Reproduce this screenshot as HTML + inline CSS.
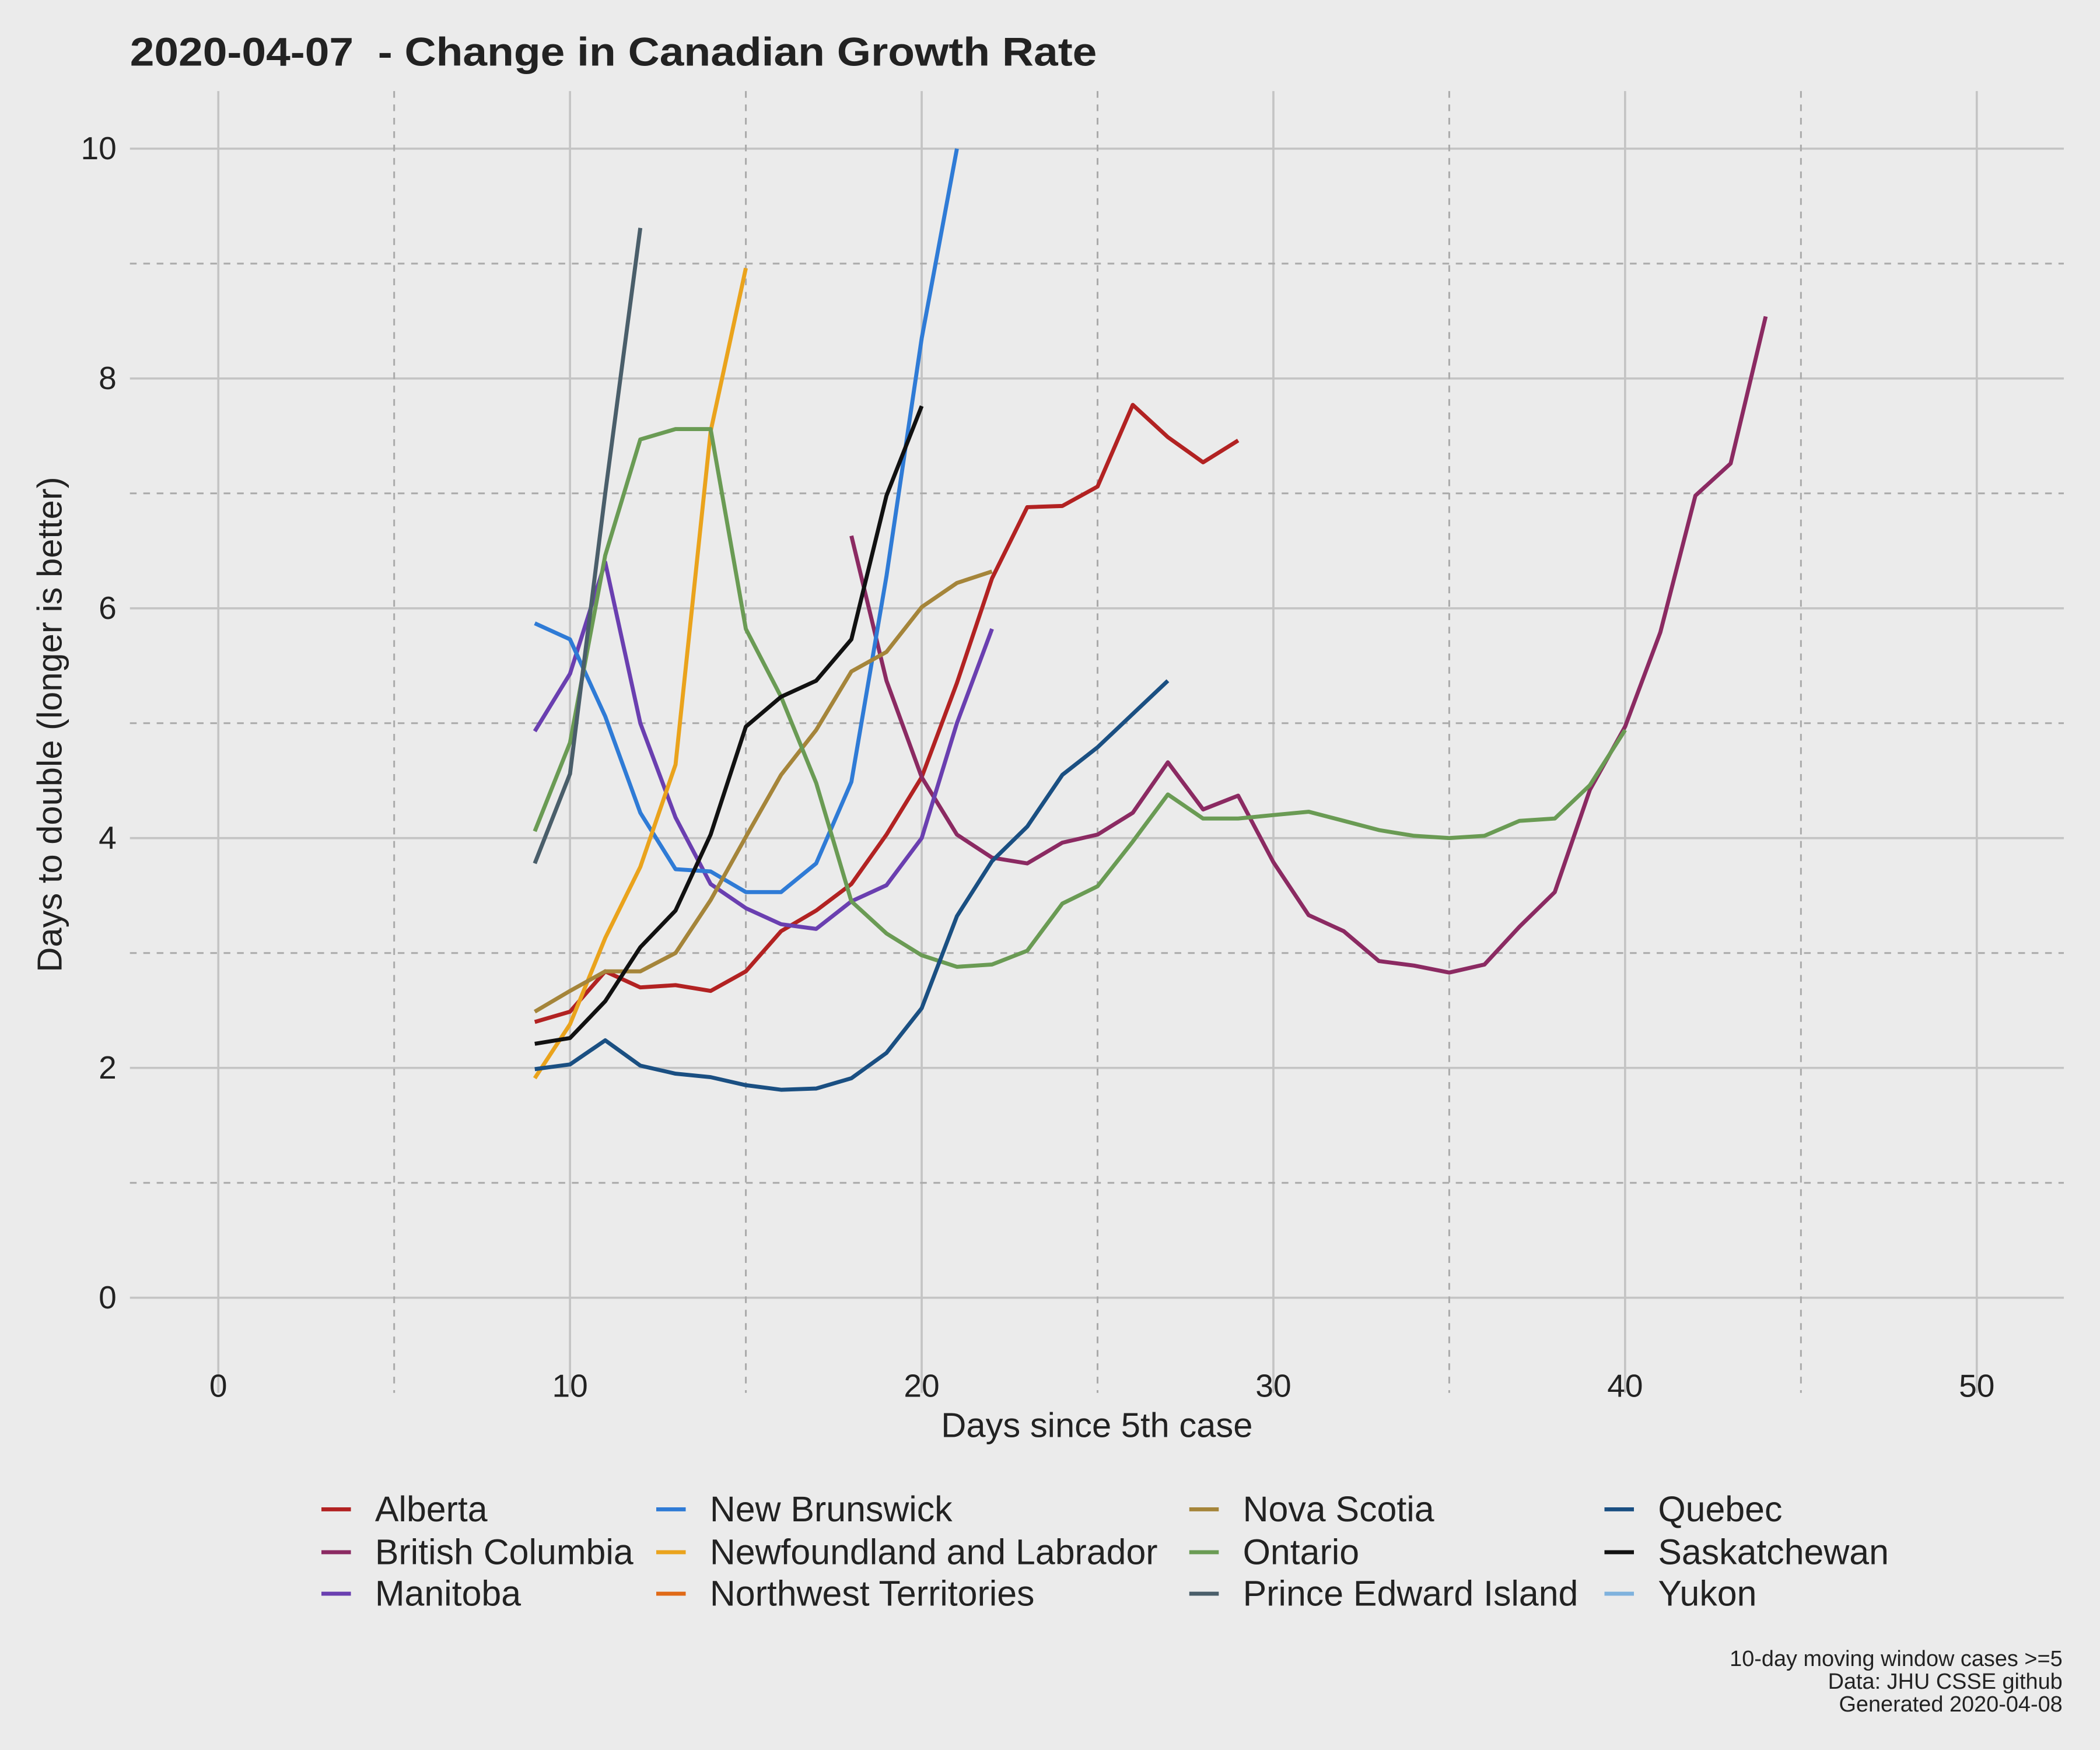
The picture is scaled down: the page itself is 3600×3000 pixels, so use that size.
<!DOCTYPE html>
<html><head><meta charset="utf-8"><style>
html,body{margin:0;padding:0;background:#ebebeb;}
svg{display:block;}
text{font-family:"Liberation Sans",sans-serif;fill:#222;}
</style></head><body>
<svg id="chart" width="3600" height="3000" viewBox="0 0 1568 1306.7" preserveAspectRatio="none" xmlns="http://www.w3.org/2000/svg">
<rect width="1568" height="1307" fill="#ebebeb"/>
<g id="grid"></g>
<g id="lines"></g>
<g id="ticks"></g>
<text x="97" y="49" font-size="30" font-weight="bold" textLength="722" lengthAdjust="spacingAndGlyphs">2020-04-07&#160; - Change in Canadian Growth Rate</text>
<text x="819" y="1073" font-size="26" text-anchor="middle">Days since 5th case</text>
<text x="0" y="0" font-size="26" text-anchor="middle" transform="translate(46,541) rotate(-90)">Days to double (longer is better)</text>
<g id="legend"></g>
<g font-size="16.5">
<text x="1540" y="1244" text-anchor="end">10-day moving window cases &gt;=5</text>
<text x="1540" y="1261" text-anchor="end">Data: JHU CSSE github</text>
<text x="1540" y="1278" text-anchor="end">Generated 2020-04-08</text>
</g>
</svg>
<script>
const names=["Alberta","British Columbia","Manitoba","New Brunswick","Newfoundland and Labrador","Northwest Territories","Nova Scotia","Ontario","Prince Edward Island","Quebec","Saskatchewan","Yukon"];
const colors=["#b22222","#8b2a62","#6a3fb0","#2f7bd6","#eaa31c","#e06a17","#a5853a","#6a9b54","#4a5e6a","#1a4f82","#111111","#7fb2dd"];
const startDays=[9,18,9,9,9,0,9,9,9,9,9,0];
const alberta=[2.40,2.49,2.84,2.70,2.72,2.67,2.84,3.19,3.37,3.60,4.03,4.53,5.35,6.26,6.88,6.89,7.06,7.77,7.49,7.27,7.46];
const bc=[6.63,5.37,4.53,4.03,3.83,3.78,3.96,4.03,4.22,4.66,4.25,4.37,3.79,3.33,3.19,2.93,2.89,2.83,2.90,3.23,3.53,4.42,4.97,5.79,6.98,7.26,8.54];
const manitoba=[4.93,5.43,6.40,5.00,4.18,3.60,3.39,3.25,3.21,3.45,3.59,4.00,5.00,5.82];
const nb=[5.87,5.73,5.06,4.22,3.73,3.71,3.53,3.53,3.78,4.49,6.28,8.35,10.0];
const nl=[1.91,2.38,3.13,3.75,4.64,7.54,8.96];
const nwt=[];
const ns=[2.49,2.67,2.84,2.84,3.0,3.46,4.01,4.55,4.94,5.45,5.62,6.01,6.22,6.32];
const ontario=[4.06,4.83,6.46,7.47,7.56,7.56,5.82,5.23,4.48,3.45,3.17,2.98,2.88,2.90,3.02,3.43,3.58,3.97,4.38,4.17,4.17,4.20,4.23,4.15,4.07,4.02,4.00,4.02,4.15,4.17,4.46,4.94];
const pei=[3.78,4.56,7.0,9.31];
const quebec=[1.99,2.03,2.24,2.02,1.95,1.92,1.85,1.81,1.82,1.91,2.13,2.52,3.32,3.80,4.10,4.55,4.79,5.08,5.37];
const sask=[2.21,2.26,2.58,3.05,3.37,4.03,4.97,5.23,5.37,5.73,6.98,7.76];
const yukon=[];
const series=[alberta,bc,manitoba,nb,nl,nwt,ns,ontario,pei,quebec,sask,yukon];
const xTicks=[0,10,20,30,40,50];
const yTicks=[0,2,4,6,8,10];
const xMinor=[5,15,25,35,45];
const yMinor=[1,3,5,7,9];
const NS="http://www.w3.org/2000/svg";
const X=v=>163+v*(1476-163)/50;
const Y=v=>969-v*(969-111)/10;
function mk(tag,attrs,parent){const e=document.createElementNS(NS,tag);for(const k in attrs)e.setAttribute(k,attrs[k]);parent.appendChild(e);return e;}
const grid=document.getElementById('grid'),ticks=document.getElementById('ticks'),lines=document.getElementById('lines'),legend=document.getElementById('legend');
xTicks.forEach(t=>{const l=mk('line',{x1:X(t),x2:X(t),y1:68,y2:1040,stroke:'#c4c4c4','stroke-width':1.6},grid);


const tx=mk('text',{x:X(t),y:1043,'font-size':24,'text-anchor':'middle'},ticks);tx.textContent=t;

});
yTicks.forEach(t=>{const l=mk('line',{x1:97,x2:1541,y1:Y(t),y2:Y(t),stroke:'#c4c4c4','stroke-width':1.6},grid);


const tx=mk('text',{x:87,y:Y(t)+8,'font-size':24,'text-anchor':'end'},ticks);tx.textContent=t;

});
xMinor.forEach(t=>{const l=mk('line',{x1:X(t),x2:X(t),y1:68,y2:1040,stroke:'#aaaaaa','stroke-width':1.3,'stroke-dasharray':'5,5'},grid);

});
yMinor.forEach(t=>{const l=mk('line',{x1:97,x2:1541,y1:Y(t),y2:Y(t),stroke:'#aaaaaa','stroke-width':1.3,'stroke-dasharray':'5,5'},grid);

});
series.forEach((s,i)=>{if(!s.length)return;const pts=s.map((v,j)=>X(startDays[i]+j).toFixed(1)+','+Y(v).toFixed(1)).join(' ');
const p=mk('polyline',{points:pts,fill:'none',stroke:colors[i],'stroke-width':3,'stroke-linejoin':'round'},lines);

});
const colX=[240,490,888,1198],rowY=[1127,1159,1190];
names.forEach((n,i)=>{const c=Math.floor(i/3),r=i%3;const g=mk('g',{},legend);


mk('line',{x1:colX[c],x2:colX[c]+22,y1:rowY[r],y2:rowY[r],stroke:colors[i],'stroke-width':3},g);
const t=mk('text',{x:colX[c]+40,y:rowY[r]+9,'font-size':26.5},g);t.textContent=n;});
</script>
</body></html>
